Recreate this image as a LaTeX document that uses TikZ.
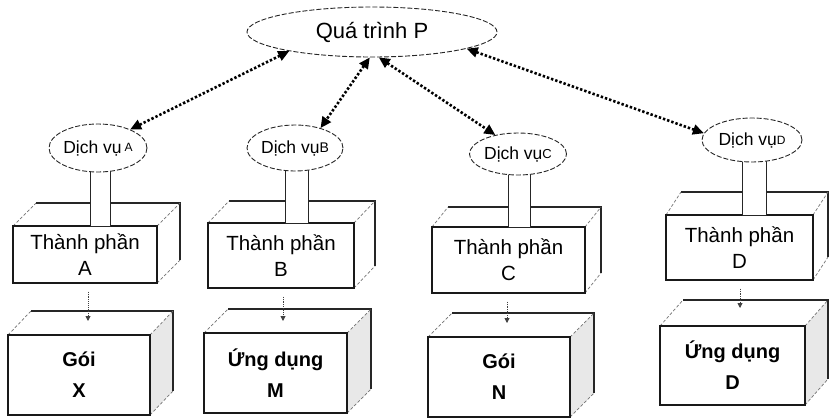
\documentclass[tikz,border=0pt]{standalone}
\usepackage{fontspec}
\setmainfont{Liberation Sans}
\usetikzlibrary{shapes.geometric,arrows.meta}
\tikzset{
  svc/.style={ellipse, draw=black!85, dash pattern=on 5pt off 2pt, line width=0.9pt, fill=white, inner sep=0pt, font=\fontsize{17.5}{20}\selectfont},
  face/.style={rectangle, draw=black!90, line width=1.4pt, fill=white, inner sep=0pt, align=center},
  backedge/.style={draw=black!85, line width=1.2pt},
  diag/.style={draw=black!55, line width=0.7pt, dash pattern=on 3pt off 2pt},
  stem/.style={draw=black!85, line width=1pt, fill=white},
  dlink/.style={line width=2.6pt, dash pattern=on 2.4pt off 2pt, {Triangle[length=11pt,width=10pt]}-{Triangle[length=11pt,width=10pt]}},
  vlink/.style={line width=0.9pt, densely dotted, -{Triangle[length=5pt,width=5pt]}, black!75, shorten <=8pt},
  sidecol/.store in=\cubeside, sidecol=white,
  topbox/.style={sidecol=white, font=\fontsize{20.5}{26}\selectfont},
  botbox/.style={sidecol=gray!18, font=\fontsize{20}{31}\selectfont\bfseries},
}
\newcommand\cubebox[9]{%
 \begin{scope}[#8]
  \fill[fill=\cubeside] (#4,#3) -- ({#4+#6},{#3-#7}) -- ({#4+#6},{#5-#7}) -- (#4,#5) -- cycle;
  \fill[white] (#2,#3) -- ({#2+#6},{#3-#7}) -- ({#4+#6},{#3-#7}) -- (#4,#3) -- cycle;
  \draw[backedge] ({#2+#6},{#3-#7}) -- ({#4+#6},{#3-#7}) -- ({#4+#6},{#5-#7});
  \draw[diag] (#2,#3) -- ({#2+#6},{#3-#7});
  \draw[diag] (#4,#3) -- ({#4+#6},{#3-#7});
  \draw[diag] (#4,#5) -- ({#4+#6},{#5-#7});
  \node[face, minimum width={#4-#2}, minimum height={#5-#3}] (#1) at ({(#2+#4)/2},{(#3+#5)/2}) {#9};
 \end{scope}}
\begin{document}
\begin{tikzpicture}[x=1pt,y=-1pt]
\useasboundingbox (0,0) rectangle (829,418);
% top boxes
\cubebox{tA}{13}{226}{157}{283}{23}{23}{topbox}{Thành phần\\A}
\cubebox{tB}{208}{223}{354}{288}{21}{22}{topbox}{Thành phần\\B}
\cubebox{tC}{432}{227}{585}{293}{16}{20}{topbox}{Thành phần\\C}
\cubebox{tD}{666}{215}{813}{280}{15}{23}{topbox}{Thành phần\\D}
% bottom boxes
\cubebox{bX}{8}{335}{150}{415}{23}{24}{botbox}{Gói\\X}
\cubebox{bM}{204}{333}{347}{413}{24}{24}{botbox}{Ứng dụng\\M}
\cubebox{bN}{428}{337}{570}{417}{24}{24}{botbox}{Gói\\N}
\cubebox{bD}{660}{326}{805}{405}{23}{26}{botbox}{Ứng dụng\\D}
% stems
\draw[stem] (90,150) rectangle (110,226);
\draw[stem] (285,150) rectangle (308,223);
\draw[stem] (508,155) rectangle (530,227);
\draw[stem] (742,142) rectangle (766,215);
% service ellipses
\node[svc, minimum width=97, minimum height=48] (sA) at (98,148) {Dịch vụ\,\raisebox{1.5pt}{\fontsize{12}{12}\selectfont A}};
\node[svc, minimum width=96, minimum height=46] (sB) at (295,148) {Dịch vụ\raisebox{1pt}{\fontsize{14}{14}\selectfont B}};
\node[svc, minimum width=97, minimum height=42] (sC) at (518,154) {Dịch vụ\raisebox{1pt}{\fontsize{13}{13}\selectfont C}};
\node[svc, minimum width=100, minimum height=44] (sD) at (752,140) {Dịch vụ\raisebox{1pt}{\fontsize{12}{12}\selectfont D}};
% process
\node[svc, minimum width=250, minimum height=50, font=\fontsize{22}{26}\selectfont] (P) at (372,32) {Quá trình P};
% links
\draw[dlink] (P.193) -- (sA.30);
\draw[dlink] (P.-95) -- (sB.38);
\draw[dlink] (P.-75) -- (sC.140);
\draw[dlink] (P.-10) -- (sD.172);
% vertical links
\coordinate (eX) at (88,321);
\coordinate (eM) at (283,321);
\coordinate (eN) at (507,323);
\coordinate (eD) at (740,308);
\draw[vlink] (tA.south -| eX) -- (eX);
\draw[vlink] (tB.south -| eM) -- (eM);
\draw[vlink] (tC.south -| eN) -- (eN);
\draw[vlink] (tD.south -| eD) -- (eD);
\end{tikzpicture}
\end{document}
